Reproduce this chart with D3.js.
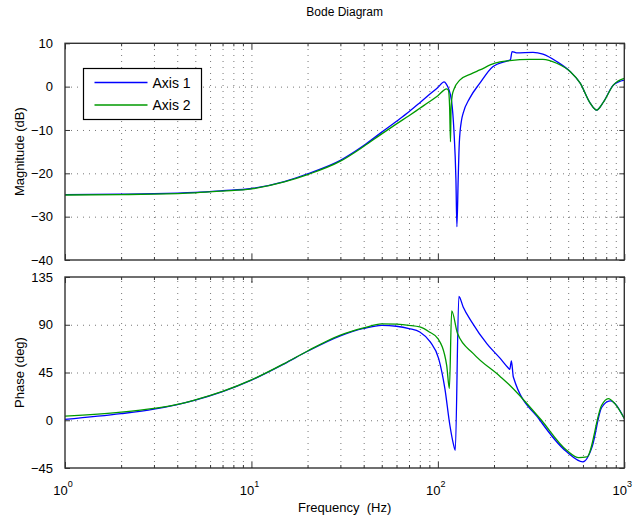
<!DOCTYPE html>
<meta charset="utf-8">
<style>
body { margin: 0; background: #fff; }
text { font-family: "Liberation Sans", Arial, sans-serif; fill: #000; }
.grid line { stroke: #777; stroke-dasharray: 1,5; }
.grid path { display: none; }
.tick-ax path { display: none; }
.tick-ax line { stroke: #333; }
.tick-ax text { font-size: 13px; }
</style>
<body>
<script src="https://cdn.jsdelivr.net/npm/d3@7"></script>
<script>

// Axis 1 magnitude
var magFreq1 = [1, 2, 3, 5, 7, 10, 15, 20, 30, 40, 50, 60, 70, 80, 90, 100, 108, 111, 114, 118.6, 121.9, 125, 126.5, 128.5, 130.3, 134, 136.7, 148, 168, 197, 238, 245, 250, 264, 324, 366, 434, 512, 580, 656, 711, 774, 875, 1000];
var magDb1   = [-24.9, -24.8, -24.7, -24.4, -24.0, -23.5, -21.9, -20.1, -17.0, -13.6, -10.5, -8.0, -5.8, -3.7, -1.8, -0.2, 1.1, 0.6, -0.4, -3.5, -10, -21.5, -32.3, -21.5, -13, -7.7, -6.1, -2.7, 0.8, 4.6, 6.0, 6.2, 8.1, 7.8, 7.9, 7.5, 5.8, 3.5, 0.8, -3.8, -5.4, -3.5, 0.4, 1.5];

// Axis 2 magnitude
var magFreq2 = [1, 2, 3, 5, 7, 10, 15, 20, 30, 40, 50, 60, 70, 80, 90, 100, 111.5, 114, 115.6, 116.9, 117.6, 119.5, 122, 131, 150, 168, 202, 243, 311, 366, 434, 512, 580, 656, 711, 774, 875, 1000];
var magDb2   = [-25.0, -24.9, -24.8, -24.5, -24.1, -23.6, -22.0, -20.3, -17.2, -13.8, -10.9, -8.6, -6.7, -5.0, -3.5, -2.1, -0.5, -0.9, -4.6, -12.7, -5.4, -1.9, -0.6, 1.5, 2.9, 3.85, 5.4, 6.0, 6.3, 6.3, 5.4, 3.5, 0.8, -3.8, -5.4, -3.5, 0.4, 1.9];

// Axis 1 phase
var phFreq1 = [1, 2, 3, 4, 5, 7, 10, 15, 20, 30, 40, 50, 60, 70, 80, 91, 101, 109, 116, 121, 124, 129.6, 136.7, 151.5, 183.5, 215.4, 238, 243, 248, 254, 353, 491, 600, 672, 756, 840, 1000];
var phDeg1  = [0.8, 6.2, 10.5, 14.8, 19, 27, 37.8, 53.2, 65, 79.5, 86.5, 89.5, 88.6, 86.4, 83.2, 73.8, 58.1, 30, -4.7, -22, -28.3, 116.8, 106.8, 93, 72, 58.5, 49.5, 48, 55.9, 40.8, 0, -29.8, -39.3, -25.1, 12, 18.2, 1.6];

// Axis 2 phase
var phFreq2 = [1, 2, 3, 4, 5, 7, 10, 15, 20, 30, 40, 50, 60, 70, 80, 90, 100, 111.5, 115.3, 118.6, 127.5, 155, 215, 243, 353, 491, 570, 630, 756, 820, 890, 1000];
var phDeg2  = [3.8, 7.6, 11.2, 15, 19.3, 27.2, 38, 53.4, 65.3, 80.3, 87, 90.8, 90.5, 89.5, 87.9, 83.2, 77, 51.8, 29.8, 103, 81.7, 62.8, 41.5, 33, 1.6, -28.3, -35.2, -34.6, 14.1, 20.4, 15.7, 1.6];

var magTicks = [10, 0, -10, -20, -30, -40];
var phTicks = [135, 90, 45, 0, -45];
var decades = [1, 10, 100, 1000];
var seriesNames = ["Axis 1", "Axis 2"];
var colors = ["#0000ff", "#009a00"];

var width = 642, height = 520;
var left = 65, right = 624.3;

var svg = d3.select("body").append("svg")
    .attr("width", width)
    .attr("height", height);

var x = d3.scaleLog().domain([1, 1000]).range([left, right]);

var minors = [];
decades.slice(0, 3).forEach(function(d) {
  for (var k = 2; k <= 9; k++) minors.push(d * k);
});

function zip(fs, vs) {
  return fs.map(function(f, i) { return [f, vs[i]]; });
}

function panel(y, yTicks, series) {
  var top = y.range()[1], bottom = y.range()[0];
  var h = bottom - top;
  var g = svg.append("g");

  // grid
  g.append("g").attr("class", "grid")
      .attr("transform", "translate(0," + bottom + ")")
      .call(d3.axisBottom(x).tickValues(minors.concat(decades.slice(1, 3))).tickSize(-h).tickFormat(""));
  g.append("g").attr("class", "grid")
      .attr("transform", "translate(" + left + ",0)")
      .call(d3.axisLeft(y).tickValues(yTicks.slice(1, -1)).tickSize(-(right - left)).tickFormat(""));

  // curves
  var line = d3.line()
      .x(function(d) { return x(d[0]); })
      .y(function(d) { return y(d[1]); })
      .curve(d3.curveMonotoneX);
  series.forEach(function(s, i) {
    g.append("path")
        .attr("d", line(s))
        .attr("fill", "none")
        .attr("stroke", colors[i])
        .attr("stroke-width", 1.3)
        .attr("stroke-linejoin", "round");
  });

  // ticks, inward on all four sides
  g.append("g").attr("class", "tick-ax")
      .attr("transform", "translate(0," + bottom + ")")
      .call(d3.axisBottom(x).tickValues(decades).tickSize(-6).tickFormat(""));
  g.append("g").attr("class", "tick-ax")
      .attr("transform", "translate(0," + bottom + ")")
      .call(d3.axisBottom(x).tickValues(minors).tickSize(-3).tickFormat(""));
  g.append("g").attr("class", "tick-ax")
      .attr("transform", "translate(0," + top + ")")
      .call(d3.axisTop(x).tickValues(decades).tickSize(-6).tickFormat(""));
  g.append("g").attr("class", "tick-ax")
      .attr("transform", "translate(0," + top + ")")
      .call(d3.axisTop(x).tickValues(minors).tickSize(-3).tickFormat(""));
  g.append("g").attr("class", "tick-ax")
      .attr("transform", "translate(" + left + ",0)")
      .call(d3.axisLeft(y).tickValues(yTicks).tickSize(-5).tickPadding(12));
  g.append("g").attr("class", "tick-ax")
      .attr("transform", "translate(" + right + ",0)")
      .call(d3.axisRight(y).tickValues(yTicks).tickSize(-5).tickFormat(""));

  // box
  g.append("rect")
      .attr("x", left).attr("y", top)
      .attr("width", right - left).attr("height", h)
      .attr("fill", "none")
      .attr("stroke", "#333")
      .attr("stroke-width", 1.4);
  return g;
}

var yMag = d3.scaleLinear().domain([-40, 10]).range([260, 43.3]);
var yPh = d3.scaleLinear().domain([-45, 135]).range([468, 277]);

panel(yMag, magTicks, [zip(magFreq1, magDb1), zip(magFreq2, magDb2)]);
panel(yPh, phTicks, [zip(phFreq1, phDeg1), zip(phFreq2, phDeg2)]);

// x tick labels 10^n
decades.forEach(function(d, i) {
  var t = svg.append("text")
      .attr("x", x(d) - 2)
      .attr("y", 495)
      .attr("text-anchor", "middle")
      .style("font-size", "13px");
  t.append("tspan").text("10");
  t.append("tspan").attr("dy", -8).style("font-size", "9px").text(i);
});

// titles
svg.append("text")
    .attr("x", (left + right) / 2).attr("y", 16)
    .attr("text-anchor", "middle")
    .style("font-size", "12px")
    .text("Bode Diagram");

svg.append("text")
    .attr("x", (left + right) / 2).attr("y", 512)
    .attr("text-anchor", "middle")
    .style("font-size", "13px")
    .style("white-space", "pre")
    .text("Frequency  (Hz)");

svg.append("text")
    .attr("transform", "translate(24," + ((43.3 + 260) / 2) + ") rotate(-90)")
    .attr("text-anchor", "middle")
    .style("font-size", "13px")
    .text("Magnitude (dB)");

svg.append("text")
    .attr("transform", "translate(24," + ((277 + 468) / 2) + ") rotate(-90)")
    .attr("text-anchor", "middle")
    .style("font-size", "13px")
    .text("Phase (deg)");

// legend
var lg = svg.append("g").attr("transform", "translate(83.5,68.5)");
lg.append("rect")
    .attr("width", 118).attr("height", 51)
    .attr("fill", "#fff")
    .attr("stroke", "#000")
    .attr("stroke-width", 1.2);
seriesNames.forEach(function(name, i) {
  var yy = 14 + i * 22.5;
  lg.append("line")
      .attr("x1", 11).attr("x2", 64)
      .attr("y1", yy).attr("y2", yy)
      .attr("stroke", colors[i])
      .attr("stroke-width", 1.3);
  lg.append("text")
      .attr("x", 69).attr("y", yy + 5)
      .style("font-size", "14px")
      .text(name);
});
</script>
</body>
